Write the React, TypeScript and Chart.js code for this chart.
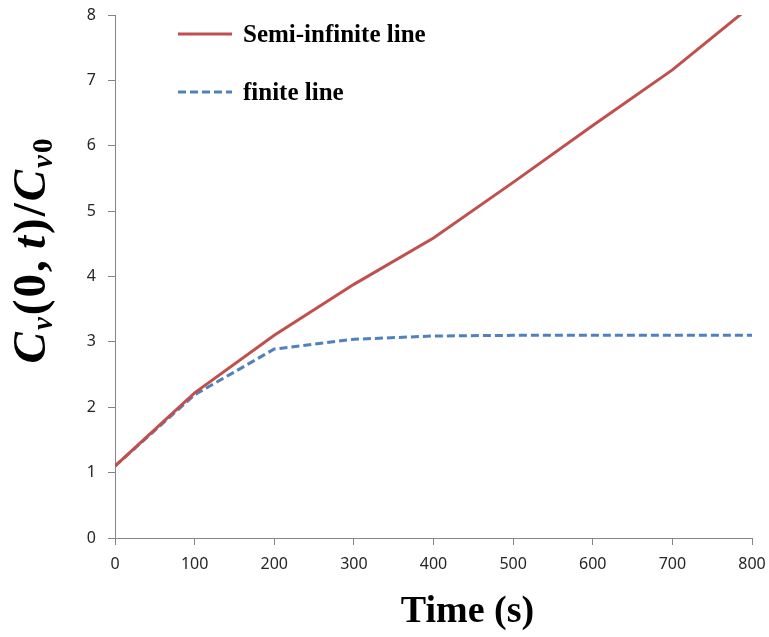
import React, { useEffect, useRef } from "react";
import { Chart, registerables } from "chart.js";

Chart.register(...registerables);

const timeValues = [0, 100, 200, 300, 400, 500, 600, 700, 800];
const semiInfinite = [1.1, 2.22, 3.1, 3.88, 4.59, 5.44, 6.31, 7.16, 8.15];
const finiteLine = [1.1, 2.19, 2.89, 3.04, 3.09, 3.1, 3.1, 3.1, 3.1];
const seriesLabels = ["Semi-infinite line", "finite line"];
const xTitle = "Time (s)";

const RED = "#C0504D";
const BLUE = "#4F81BD";
const AXIS = "#868686";

const overlayPlugin = {
  id: "overlay",
  afterDraw(chart: any) {
    const ctx = chart.ctx as CanvasRenderingContext2D;
    const area = chart.chartArea;
    ctx.save();
    // Legend
    const ds = chart.data.datasets;
    ds.forEach((d: any, i: number) => {
      const y = area.top + 19 + i * 58;
      const x0 = area.left + 63;
      ctx.beginPath();
      ctx.strokeStyle = d.borderColor;
      ctx.lineWidth = 3;
      ctx.setLineDash(d.borderDash || []);
      ctx.moveTo(x0, y);
      ctx.lineTo(x0 + 54, y);
      ctx.stroke();
      ctx.setLineDash([]);
      ctx.fillStyle = "#000";
      ctx.font = "bold 25px 'Liberation Serif', serif";
      ctx.textBaseline = "middle";
      ctx.textAlign = "left";
      ctx.fillText(d.label, x0 + 65, y + 2);
    });

    // X title
    ctx.fillStyle = "#000";
    ctx.font = "bold 38px 'Liberation Serif', serif";
    ctx.textAlign = "center";
    ctx.textBaseline = "middle";
    ctx.fillText(xTitle, (area.left + area.right) / 2 + 34, area.bottom + 74);

    // Y title with subscripts
    const big = 47;
    const small = 29;
    const gap = 2;
    const parts: { t: string; f: string; sub?: boolean }[] = [
      { t: "C", f: `italic bold ${big}px 'Liberation Serif', serif` },
      { t: "v", f: `italic bold ${small}px 'Liberation Serif', serif`, sub: true },
      { t: "(", f: `bold ${big}px 'Liberation Serif', serif` },
      { t: "0", f: `bold ${big}px 'Liberation Serif', serif` },
      { t: ",", f: `bold ${big}px 'Liberation Serif', serif` },
      { t: " ", f: `bold ${small}px 'Liberation Serif', serif` },
      { t: "t", f: `italic bold ${big}px 'Liberation Serif', serif` },
      { t: ")", f: `bold ${big}px 'Liberation Serif', serif` },
      { t: "/", f: `bold ${big}px 'Liberation Serif', serif` },
      { t: "C", f: `italic bold ${big}px 'Liberation Serif', serif` },
      { t: "v", f: `italic bold ${small}px 'Liberation Serif', serif`, sub: true },
      { t: "0", f: `bold ${small}px 'Liberation Serif', serif`, sub: true },
    ];
    let total = 0;
    const widths = parts.map((p) => {
      ctx.font = p.f;
      const w = ctx.measureText(p.t).width + gap;
      total += w;
      return w;
    });
    const cx = 30;
    const cy = 250;
    ctx.translate(cx, cy);
    ctx.rotate(-Math.PI / 2);
    ctx.textAlign = "left";
    ctx.textBaseline = "alphabetic";
    let x = -total / 2;
    parts.forEach((p, i) => {
      ctx.font = p.f;
      ctx.fillText(p.t, x, p.sub ? 22 : 15);
      x += widths[i];
    });
    ctx.restore();
  },
};

export default function App() {
  const ref = useRef<HTMLCanvasElement>(null);
  useEffect(() => {
    document.body.style.margin = "0";
    const canvas = ref.current!;
    const tickFont = { family: "'Noto Sans', sans-serif", size: 16 };
    const chart = new Chart(canvas, {
      type: "line",
      data: {
        datasets: [
          {
            label: seriesLabels[0],
            data: timeValues.map((t, i) => ({ x: t, y: semiInfinite[i] })),
            borderColor: RED,
            backgroundColor: RED,
            borderWidth: 3,
            pointRadius: 0,
            tension: 0,
          },
          {
            label: seriesLabels[1],
            data: timeValues.map((t, i) => ({ x: t, y: finiteLine[i] })),
            borderColor: BLUE,
            backgroundColor: BLUE,
            borderWidth: 3,
            borderDash: [8, 4],
            pointRadius: 0,
            tension: 0,
          },
        ],
      },
      options: {
        responsive: false,
        animation: false,
        layout: { padding: { top: 15, right: 17, left: 0, bottom: 0 } },
        plugins: {
          legend: { display: false },
          tooltip: { enabled: false },
        },
        scales: {
          x: {
            type: "linear",
            min: 0,
            max: 800,
            ticks: {
              stepSize: 100,
              color: "#262626",
              font: tickFont,
              padding: 10,
            },
            grid: {
              drawOnChartArea: false,
              drawTicks: true,
              tickLength: 7,
              color: AXIS,
            },
            border: { color: AXIS, width: 1 },
            afterFit(scale: any) {
              scale.height = 99;
              scale.paddingLeft = 0;
              scale.paddingRight = 0;
            },
          },
          y: {
            min: 0,
            max: 8,
            ticks: {
              stepSize: 1,
              color: "#262626",
              font: tickFont,
              padding: 12,
            },
            grid: {
              drawOnChartArea: false,
              drawTicks: true,
              tickLength: 7,
              color: AXIS,
            },
            border: { color: AXIS, width: 1 },
            afterFit(scale: any) {
              scale.width = 115;
              scale.paddingTop = 0;
              scale.paddingBottom = 0;
            },
          },
        },
      },
      plugins: [overlayPlugin],
    });
    return () => chart.destroy();
  }, []);
  return (
    <div style={{ width: 769, height: 637 }}>
      <canvas ref={ref} width={769} height={637} />
    </div>
  );
}
